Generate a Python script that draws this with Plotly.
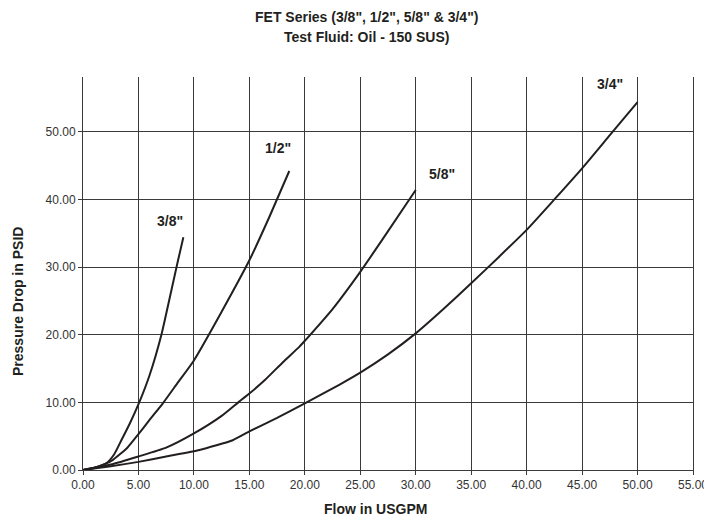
import plotly.graph_objects as go

# flow (USGPM) vs pressure drop (PSID)
flow_38 = [0, 1, 2.1, 2.8, 3.46, 4.2, 5.1, 6, 7.07, 8, 8.57, 9.05]
dp_38 = [0, 0.35, 1.0, 2.3, 4.4, 6.8, 10.1, 14.0, 20.0, 26.8, 31.0, 34.4]

flow_12 = [0, 1, 2, 2.7, 4, 5, 6, 7.2, 8.5, 10, 12.5, 15, 16.8, 18.6]
dp_12 = [0, 0.3, 0.9, 1.5, 3.3, 5.3, 7.4, 9.85, 12.8, 16.2, 23.4, 31.0, 37.4, 44.2]

flow_58 = [0, 2.5, 5, 7.5, 10, 12.5, 14, 15, 16.4, 18, 19.5, 20, 22.5, 25, 27.05, 30]
dp_58 = [0, 0.8, 2.0, 3.3, 5.4, 8.0, 10.0, 11.3, 13.3, 15.9, 18.2, 19.1, 23.8, 29.3, 34.2, 41.4]

flow_34 = [0, 2.5, 5, 7.5, 10.5, 13.5, 15, 17.5, 20, 23.1, 25, 27.5, 30, 32.5, 35,
           37.5, 40, 42.5, 45, 47.5, 50]
dp_34 = [0, 0.55, 1.2, 2.0, 2.95, 4.4, 5.7, 7.7, 9.85, 12.6, 14.4, 17.1, 20.2, 23.8,
         27.6, 31.5, 35.5, 40.0, 44.6, 49.5, 54.4]

sizes = ['3/8"', '1/2"', '5/8"', '3/4"']
label_x = [7.8, 17.6, 32.4, 47.5]
label_y = [36.8, 47.6, 43.8, 57.0]

x_ticks = [0, 5, 10, 15, 20, 25, 30, 35, 40, 45, 50, 55]
y_ticks = [0, 10, 20, 30, 40, 50]

FONT = "Liberation Sans, Arial, Helvetica, sans-serif"
INK = "#231f20"
GRID = "#3a3a3a"

# page has an 8px body margin, so the figure is sized/offset to match
OFF = 8
W, H = 704, 510
L, R, T, B = 75, 19, 69, 48
pw, ph = W - L - R, H - T - B


def px_to_paper(sx, sy):
    # screen pixel -> paper coords
    return (sx - OFF - L) / pw, (H - B - (sy - OFF)) / ph


fig = go.Figure()
for xs, ys, name in [(flow_38, dp_38, sizes[0]), (flow_12, dp_12, sizes[1]),
                     (flow_58, dp_58, sizes[2]), (flow_34, dp_34, sizes[3])]:
    fig.add_trace(go.Scatter(
        x=xs, y=ys, mode='lines', name=name,
        line=dict(color=INK, width=2, shape='spline', smoothing=0.5),
        hoverinfo='skip'
    ))

annotations = [
    dict(x=lx, y=ly, text=f"<b>{t}</b>", showarrow=False, xref='x', yref='y',
         font=dict(size=14, color=INK, family=FONT))
    for t, lx, ly in zip(sizes, label_x, label_y)
]

page_texts = [
    ("<b>FET Series (3/8\", 1/2\", 5/8\" & 3/4\")</b>", 366, 17, 0),
    ("<b>Test Fluid: Oil - 150 SUS)</b>", 366, 37, 0),
    ("<b>Flow in USGPM</b>", 375, 509, 0),
    ("<b>Pressure Drop in PSID</b>", 18, 302, -90),
]
for txt, sx, sy, ang in page_texts:
    ax, ay = px_to_paper(sx, sy)
    annotations.append(dict(
        text=txt, x=ax, y=ay, xref='paper', yref='paper', xanchor='center',
        yanchor='middle', textangle=ang, showarrow=False,
        font=dict(size=14, color=INK, family=FONT)
    ))

fig.update_layout(
    width=W, height=H,
    margin=dict(l=L, r=R, t=T, b=B, autoexpand=False),
    paper_bgcolor='white', plot_bgcolor='white',
    showlegend=False,
    annotations=annotations,
    xaxis=dict(
        range=[0, 55], tickvals=x_ticks, ticktext=[f"{v:.2f}" for v in x_ticks],
        showgrid=True, gridcolor=GRID, gridwidth=1, automargin=False,
        zeroline=False, showline=True, linecolor=GRID, linewidth=1,
        ticks='outside', ticklen=4, tickcolor=GRID, ticklabeloverflow='allow',
        tickfont=dict(size=12, color="#333333", family=FONT),
        fixedrange=True
    ),
    yaxis=dict(
        range=[0, 58.1], tickvals=y_ticks, ticktext=[f"{v:.2f}" for v in y_ticks],
        showgrid=True, gridcolor=GRID, gridwidth=1, automargin=False,
        zeroline=False, showline=True, mirror=True, linecolor=GRID, linewidth=1,
        ticks='outside', ticklen=4, tickcolor=GRID,
        tickfont=dict(size=12, color="#333333", family=FONT),
        fixedrange=True
    ),
)

fig.write_html("out.html")
